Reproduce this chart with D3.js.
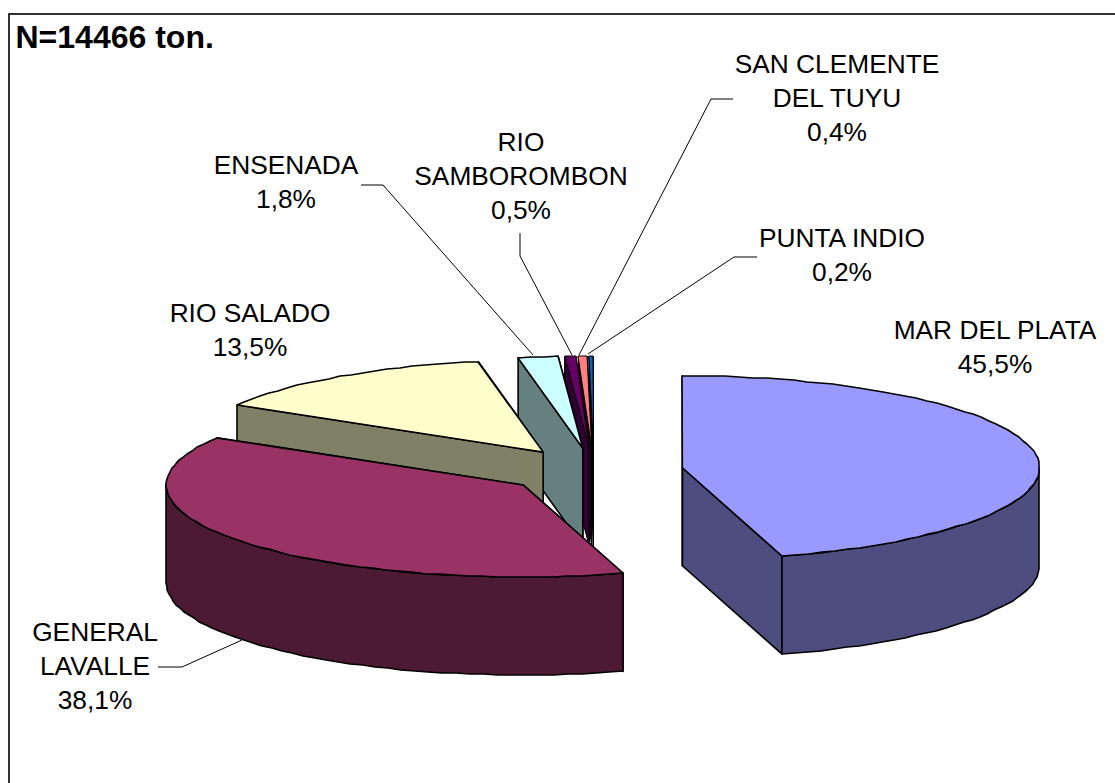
<!DOCTYPE html>
<html>
<head>
<meta charset="utf-8">
<script src="https://cdn.jsdelivr.net/npm/d3@7"></script>
<style>
  body { margin: 0; background: #fff; overflow: hidden; }
  svg { display: block; }
  text { font-family: "Liberation Sans", Arial, sans-serif; fill: #000; }
</style>
</head>
<body>
<div id="chart"></div>
<script>
// data
var categories = ["MAR DEL PLATA", "GENERAL LAVALLE", "RIO SALADO", "ENSENADA", "RIO SAMBOROMBON", "SAN CLEMENTE DEL TUYU", "PUNTA INDIO"];
var percents = [45.5, 38.1, 13.5, 1.8, 0.5, 0.4, 0.2];
var topColors = ["#9999ff", "#993366", "#ffffcc", "#ccffff", "#660066", "#ff8080", "#0066cc"];
var sideColors = ["#4d4d80", "#4d1a33", "#808066", "#668080", "#330033", "#1a0a10", "#000000"];
var title = "N=14466 ton.";

// pie geometry
var width = 1115, height = 783;
var cx = 594, cy = 471, rx = 357, ry = 92, depth = 98, explode = 0.25;

// label placement: lines of text, centre x, first baseline, leader polyline
var labels = [
  {lines: ["MAR DEL PLATA"], x: 995, y: 339},
  {lines: ["GENERAL", "LAVALLE"], x: 95, y: 641, leader: [[158, 667], [182, 667], [242, 640]]},
  {lines: ["RIO SALADO"], x: 250, y: 322},
  {lines: ["ENSENADA"], x: 286, y: 174, leader: [[361, 185], [383, 185], [533, 355]]},
  {lines: ["RIO", "SAMBOROMBON"], x: 521, y: 151, leader: [[520, 233], [520, 256], [572, 355]]},
  {lines: ["SAN CLEMENTE", "DEL TUYU"], x: 837, y: 73, leader: [[733, 99], [711, 99], [579, 355]]},
  {lines: ["PUNTA INDIO"], x: 842, y: 247, leader: [[757, 257], [734, 257], [588, 354]]}
];

var svg = d3.select("#chart").append("svg")
    .attr("width", width)
    .attr("height", height);

// frame runs off the right and bottom of the picture
svg.append("rect")
    .attr("x", 9).attr("y", 14)
    .attr("width", 1300).attr("height", 1000)
    .attr("fill", "#fff").attr("stroke", "#000").attr("stroke-width", 1.6);

var pie = d3.pie().sort(null).value(function(d) { return d; });
var slices = pie(percents);

// angle clockwise from 12 o'clock to a point on the flattened ellipse
function rim(o, a) {
  return [o[0] + rx * Math.sin(a), o[1] - ry * Math.cos(a)];
}
function drop(p) { return [p[0], p[1] + depth]; }

var line = d3.line();

// rounded to whole pixels so the edge wobbles a bit like the original
function arcPoints(o, a0, a1) {
  var n = Math.max(2, Math.ceil((a1 - a0) / 0.04));
  return d3.range(n + 1).map(function(i) {
    var p = rim(o, a0 + (a1 - a0) * i / n);
    return [Math.round(p[0]), Math.round(p[1])];
  });
}

function addPoly(g, pts, fill, sw) {
  g.append("path")
    .attr("d", line(pts) + "Z")
    .attr("fill", fill)
    .attr("stroke", "#000")
    .attr("stroke-width", sw)
    .attr("stroke-linejoin", "round");
}

// back slices first, then the big ones on top
var order = [6, 5, 4, 3, 2, 1, 0];
order.forEach(function(i) {
  var s = slices[i];
  var mid = (s.startAngle + s.endAngle) / 2;
  var o = [cx + explode * rx * Math.sin(mid), cy - explode * ry * Math.cos(mid)];
  var g = svg.append("g").attr("class", "slice");
  // thin outline on the tiny slices or the fill disappears
  var sw = percents[i] < 1 ? 1 : 1.6;

  var pStart = rim(o, s.startAngle), pEnd = rim(o, s.endAngle);
  addPoly(g, [o, pEnd, drop(pEnd), drop(o)], sideColors[i], sw);
  addPoly(g, [o, pStart, drop(pStart), drop(o)], sideColors[i], sw);

  // outer wall, only the part facing front
  var a0 = Math.max(s.startAngle, Math.PI / 2), a1 = Math.min(s.endAngle, 3 * Math.PI / 2);
  if (a1 > a0) {
    var front = arcPoints(o, a0, a1);
    addPoly(g, front.concat(front.map(drop).reverse()), sideColors[i], sw);
  }

  addPoly(g, [o].concat(arcPoints(o, s.startAngle, s.endAngle)), topColors[i], sw);
});

// leader lines
svg.selectAll("path.leader")
  .data(labels.filter(function(d) { return d.leader; }))
  .enter().append("path")
    .attr("class", "leader")
    .attr("d", function(d) { return line(d.leader); })
    .attr("fill", "none")
    .attr("stroke", "#000")
    .attr("stroke-width", 1);

// labels, name then percentage with a decimal comma
var fmt = d3.format(".1f");
labels.forEach(function(d, i) {
  var t = svg.append("text")
      .attr("text-anchor", "middle")
      .attr("font-size", 26.3);
  d.lines.concat([fmt(percents[i]).replace(".", ",") + "%"]).forEach(function(str, k) {
    t.append("tspan")
      .attr("x", d.x)
      .attr("y", d.y + k * 34.2)
      .text(str);
  });
});

svg.append("text")
    .attr("x", 15.5)
    .attr("y", 48)
    .attr("font-size", 32)
    .attr("font-weight", "bold")
    .text(title);
</script>
</body>
</html>
